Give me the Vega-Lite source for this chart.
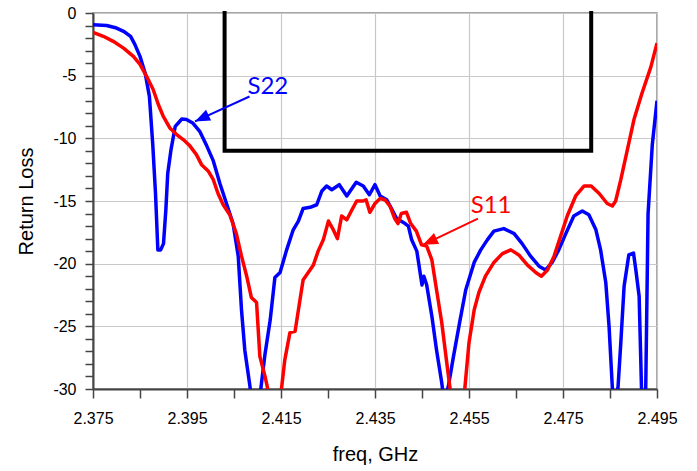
{
  "$schema": "https://vega.github.io/schema/vega-lite/v6.json",
  "width": 564,
  "height": 376,
  "autosize": {"type": "none"},
  "padding": {"left": 93, "top": 13, "right": 40, "bottom": 82},
  "background": "white",
  "config": {
    "view": {"stroke": "#888888", "strokeWidth": 1.5},
    "font": "Liberation Sans",
    "axis": {
      "labelFont": "Liberation Sans",
      "titleFont": "Liberation Sans",
      "labelColor": "black",
      "titleColor": "black",
      "titleFontWeight": "normal",
      "labelFontSize": 16,
      "titleFontSize": 20,
      "domainColor": "#444444",
      "domainWidth": 2,
      "tickColor": "#444444",
      "tickWidth": 1.5,
      "gridColor": "#c8c8c8",
      "gridWidth": 1.2,
      "labelOverlap": false,
      "labelFlush": false
    }
  },
  "resolve": {"axis": {"x": "independent", "y": "independent"}},
  "datasets": {
    "curves": [
      {"series": "S22", "freq": 2.375, "db": -0.93},
      {"series": "S22", "freq": 2.3779, "db": -1.0},
      {"series": "S22", "freq": 2.38, "db": -1.2},
      {"series": "S22", "freq": 2.3815, "db": -1.46},
      {"series": "S22", "freq": 2.383, "db": -1.86},
      {"series": "S22", "freq": 2.3839, "db": -2.5},
      {"series": "S22", "freq": 2.385, "db": -3.46},
      {"series": "S22", "freq": 2.3861, "db": -4.8},
      {"series": "S22", "freq": 2.387, "db": -6.65},
      {"series": "S22", "freq": 2.3877, "db": -10.4},
      {"series": "S22", "freq": 2.3883, "db": -14.4},
      {"series": "S22", "freq": 2.3888, "db": -18.9},
      {"series": "S22", "freq": 2.3894, "db": -18.9},
      {"series": "S22", "freq": 2.39, "db": -18.4},
      {"series": "S22", "freq": 2.3905, "db": -15.7},
      {"series": "S22", "freq": 2.3909, "db": -12.8},
      {"series": "S22", "freq": 2.3916, "db": -10.9},
      {"series": "S22", "freq": 2.3925, "db": -9.04},
      {"series": "S22", "freq": 2.3939, "db": -8.46},
      {"series": "S22", "freq": 2.3949, "db": -8.5},
      {"series": "S22", "freq": 2.3963, "db": -8.8},
      {"series": "S22", "freq": 2.3977, "db": -9.44},
      {"series": "S22", "freq": 2.3992, "db": -10.6},
      {"series": "S22", "freq": 2.4006, "db": -11.8},
      {"series": "S22", "freq": 2.402, "db": -13.6},
      {"series": "S22", "freq": 2.4034, "db": -15.2},
      {"series": "S22", "freq": 2.4048, "db": -16.8},
      {"series": "S22", "freq": 2.4059, "db": -19.4},
      {"series": "S22", "freq": 2.4066, "db": -23.7},
      {"series": "S22", "freq": 2.4073, "db": -26.9},
      {"series": "S22", "freq": 2.4084, "db": -29.8},
      {"series": "S22", "freq": 2.4095, "db": -34},
      {"series": "S22", "freq": 2.4107, "db": -30},
      {"series": "S22", "freq": 2.4116, "db": -27.2},
      {"series": "S22", "freq": 2.4127, "db": -24.5},
      {"series": "S22", "freq": 2.4137, "db": -21.1},
      {"series": "S22", "freq": 2.4148, "db": -20.7},
      {"series": "S22", "freq": 2.4162, "db": -18.9},
      {"series": "S22", "freq": 2.4176, "db": -17.3},
      {"series": "S22", "freq": 2.4187, "db": -16.6},
      {"series": "S22", "freq": 2.4197, "db": -15.6},
      {"series": "S22", "freq": 2.4212, "db": -15.5},
      {"series": "S22", "freq": 2.4226, "db": -15.3},
      {"series": "S22", "freq": 2.4237, "db": -14.2},
      {"series": "S22", "freq": 2.4247, "db": -13.8},
      {"series": "S22", "freq": 2.4258, "db": -14.1},
      {"series": "S22", "freq": 2.4274, "db": -13.7},
      {"series": "S22", "freq": 2.429, "db": -14.6},
      {"series": "S22", "freq": 2.431, "db": -13.5},
      {"series": "S22", "freq": 2.4325, "db": -13.8},
      {"series": "S22", "freq": 2.4338, "db": -14.5},
      {"series": "S22", "freq": 2.435, "db": -13.7},
      {"series": "S22", "freq": 2.4361, "db": -14.6},
      {"series": "S22", "freq": 2.4375, "db": -14.9},
      {"series": "S22", "freq": 2.4385, "db": -15.6},
      {"series": "S22", "freq": 2.4396, "db": -16.4},
      {"series": "S22", "freq": 2.4414, "db": -16.8},
      {"series": "S22", "freq": 2.4421, "db": -17.0},
      {"series": "S22", "freq": 2.4428, "db": -18.1},
      {"series": "S22", "freq": 2.4439, "db": -19.0},
      {"series": "S22", "freq": 2.445, "db": -21.7},
      {"series": "S22", "freq": 2.4454, "db": -21.0},
      {"series": "S22", "freq": 2.446, "db": -21.7},
      {"series": "S22", "freq": 2.4471, "db": -24.2},
      {"series": "S22", "freq": 2.4481, "db": -26.9},
      {"series": "S22", "freq": 2.4492, "db": -29.5},
      {"series": "S22", "freq": 2.4497, "db": -31},
      {"series": "S22", "freq": 2.4506, "db": -29.8},
      {"series": "S22", "freq": 2.4517, "db": -27.4},
      {"series": "S22", "freq": 2.4531, "db": -24.5},
      {"series": "S22", "freq": 2.4543, "db": -22.1},
      {"series": "S22", "freq": 2.4561, "db": -19.9},
      {"series": "S22", "freq": 2.4575, "db": -18.9},
      {"series": "S22", "freq": 2.4589, "db": -18.1},
      {"series": "S22", "freq": 2.4603, "db": -17.4},
      {"series": "S22", "freq": 2.4624, "db": -17.2},
      {"series": "S22", "freq": 2.4646, "db": -17.6},
      {"series": "S22", "freq": 2.4663, "db": -18.4},
      {"series": "S22", "freq": 2.4681, "db": -19.4},
      {"series": "S22", "freq": 2.4699, "db": -20.2},
      {"series": "S22", "freq": 2.4713, "db": -20.5},
      {"series": "S22", "freq": 2.4727, "db": -19.9},
      {"series": "S22", "freq": 2.4741, "db": -18.9},
      {"series": "S22", "freq": 2.4756, "db": -17.6},
      {"series": "S22", "freq": 2.4773, "db": -16.2},
      {"series": "S22", "freq": 2.4791, "db": -15.8},
      {"series": "S22", "freq": 2.4805, "db": -16.1},
      {"series": "S22", "freq": 2.482, "db": -17.3},
      {"series": "S22", "freq": 2.483, "db": -18.9},
      {"series": "S22", "freq": 2.4841, "db": -21.5},
      {"series": "S22", "freq": 2.4848, "db": -25.0},
      {"series": "S22", "freq": 2.4855, "db": -29.9},
      {"series": "S22", "freq": 2.4861, "db": -32},
      {"series": "S22", "freq": 2.4867, "db": -29.9},
      {"series": "S22", "freq": 2.4873, "db": -26.3},
      {"series": "S22", "freq": 2.488, "db": -21.8},
      {"series": "S22", "freq": 2.489, "db": -19.3},
      {"series": "S22", "freq": 2.49, "db": -19.15},
      {"series": "S22", "freq": 2.4905, "db": -20.5},
      {"series": "S22", "freq": 2.4912, "db": -22.6},
      {"series": "S22", "freq": 2.4917, "db": -29.9},
      {"series": "S22", "freq": 2.4921, "db": -32},
      {"series": "S22", "freq": 2.4926, "db": -30},
      {"series": "S22", "freq": 2.4931, "db": -16},
      {"series": "S22", "freq": 2.494, "db": -10.5},
      {"series": "S22", "freq": 2.495, "db": -7.0},
      {"series": "S11", "freq": 2.375, "db": -1.54},
      {"series": "S11", "freq": 2.3772, "db": -1.86},
      {"series": "S11", "freq": 2.3793, "db": -2.26},
      {"series": "S11", "freq": 2.3815, "db": -2.8},
      {"series": "S11", "freq": 2.3836, "db": -3.46},
      {"series": "S11", "freq": 2.385, "db": -4.1},
      {"series": "S11", "freq": 2.3864, "db": -5.05},
      {"series": "S11", "freq": 2.3878, "db": -6.1},
      {"series": "S11", "freq": 2.3889, "db": -7.3},
      {"series": "S11", "freq": 2.3899, "db": -8.2},
      {"series": "S11", "freq": 2.3914, "db": -9.2},
      {"series": "S11", "freq": 2.3928, "db": -9.7},
      {"series": "S11", "freq": 2.3942, "db": -10.1},
      {"series": "S11", "freq": 2.3956, "db": -10.6},
      {"series": "S11", "freq": 2.397, "db": -11.3},
      {"series": "S11", "freq": 2.3981, "db": -12.1},
      {"series": "S11", "freq": 2.3995, "db": -12.6},
      {"series": "S11", "freq": 2.4006, "db": -13.3},
      {"series": "S11", "freq": 2.4016, "db": -14.4},
      {"series": "S11", "freq": 2.4027, "db": -15.3},
      {"series": "S11", "freq": 2.4041, "db": -16.1},
      {"series": "S11", "freq": 2.4055, "db": -17.6},
      {"series": "S11", "freq": 2.4066, "db": -19.4},
      {"series": "S11", "freq": 2.4077, "db": -21.0},
      {"series": "S11", "freq": 2.4087, "db": -22.7},
      {"series": "S11", "freq": 2.4098, "db": -23.1},
      {"series": "S11", "freq": 2.4105, "db": -27.4},
      {"series": "S11", "freq": 2.4116, "db": -29.0},
      {"series": "S11", "freq": 2.4123, "db": -30.2},
      {"series": "S11", "freq": 2.4137, "db": -35},
      {"series": "S11", "freq": 2.4151, "db": -30.0},
      {"series": "S11", "freq": 2.4158, "db": -27.7},
      {"series": "S11", "freq": 2.4169, "db": -25.5},
      {"series": "S11", "freq": 2.418, "db": -25.4},
      {"series": "S11", "freq": 2.4187, "db": -23.7},
      {"series": "S11", "freq": 2.4197, "db": -21.3},
      {"series": "S11", "freq": 2.4208, "db": -20.7},
      {"series": "S11", "freq": 2.4219, "db": -20.1},
      {"series": "S11", "freq": 2.4229, "db": -19.0},
      {"series": "S11", "freq": 2.424, "db": -18.1},
      {"series": "S11", "freq": 2.4251, "db": -16.6},
      {"series": "S11", "freq": 2.426, "db": -17.2},
      {"series": "S11", "freq": 2.427, "db": -18.0},
      {"series": "S11", "freq": 2.4279, "db": -16.2},
      {"series": "S11", "freq": 2.429, "db": -16.5},
      {"series": "S11", "freq": 2.4301, "db": -15.7},
      {"series": "S11", "freq": 2.4311, "db": -15.0},
      {"series": "S11", "freq": 2.4325, "db": -15.0},
      {"series": "S11", "freq": 2.4331, "db": -14.9},
      {"series": "S11", "freq": 2.4339, "db": -15.9},
      {"series": "S11", "freq": 2.435, "db": -15.2},
      {"series": "S11", "freq": 2.4361, "db": -14.8},
      {"series": "S11", "freq": 2.4371, "db": -14.9},
      {"series": "S11", "freq": 2.4382, "db": -15.4},
      {"series": "S11", "freq": 2.4392, "db": -16.4},
      {"series": "S11", "freq": 2.4399, "db": -16.8},
      {"series": "S11", "freq": 2.4406, "db": -16.0},
      {"series": "S11", "freq": 2.4417, "db": -15.9},
      {"series": "S11", "freq": 2.4426, "db": -16.8},
      {"series": "S11", "freq": 2.4438, "db": -17.4},
      {"series": "S11", "freq": 2.4449, "db": -18.5},
      {"series": "S11", "freq": 2.446, "db": -18.6},
      {"series": "S11", "freq": 2.4471, "db": -19.7},
      {"series": "S11", "freq": 2.4481, "db": -22.1},
      {"series": "S11", "freq": 2.4492, "db": -24.7},
      {"series": "S11", "freq": 2.4502, "db": -27.7},
      {"series": "S11", "freq": 2.451, "db": -30.05},
      {"series": "S11", "freq": 2.4525, "db": -35},
      {"series": "S11", "freq": 2.4541, "db": -30.0},
      {"series": "S11", "freq": 2.455, "db": -26.3},
      {"series": "S11", "freq": 2.4561, "db": -23.7},
      {"series": "S11", "freq": 2.4571, "db": -22.3},
      {"series": "S11", "freq": 2.4585, "db": -21.0},
      {"series": "S11", "freq": 2.4603, "db": -19.9},
      {"series": "S11", "freq": 2.4621, "db": -19.2},
      {"series": "S11", "freq": 2.4639, "db": -18.9},
      {"series": "S11", "freq": 2.4656, "db": -19.3},
      {"series": "S11", "freq": 2.4674, "db": -20.1},
      {"series": "S11", "freq": 2.4692, "db": -20.7},
      {"series": "S11", "freq": 2.4704, "db": -21.0},
      {"series": "S11", "freq": 2.4717, "db": -20.5},
      {"series": "S11", "freq": 2.4731, "db": -19.4},
      {"series": "S11", "freq": 2.4745, "db": -17.8},
      {"series": "S11", "freq": 2.4759, "db": -16.2},
      {"series": "S11", "freq": 2.4777, "db": -14.6},
      {"series": "S11", "freq": 2.4795, "db": -13.8},
      {"series": "S11", "freq": 2.481, "db": -13.8},
      {"series": "S11", "freq": 2.4827, "db": -14.4},
      {"series": "S11", "freq": 2.4844, "db": -15.2},
      {"series": "S11", "freq": 2.4855, "db": -15.4},
      {"series": "S11", "freq": 2.4862, "db": -15.0},
      {"series": "S11", "freq": 2.4873, "db": -13.3},
      {"series": "S11", "freq": 2.4887, "db": -10.9},
      {"series": "S11", "freq": 2.4901, "db": -8.5},
      {"series": "S11", "freq": 2.4918, "db": -6.4},
      {"series": "S11", "freq": 2.4937, "db": -4.3},
      {"series": "S11", "freq": 2.495, "db": -2.4}
    ],
    "mask": [
      {"seq": 1, "freq": 2.403, "db": 0},
      {"seq": 2, "freq": 2.403, "db": -11},
      {"seq": 3, "freq": 2.481, "db": -11},
      {"seq": 4, "freq": 2.481, "db": 0}
    ],
    "notes": [
      {"series": "S22", "label": "S22", "tx": 2.4122, "ty": -5.88, "fx": 2.4083, "fy": -6.66, "hx": 2.3967, "hy": -8.65},
      {"series": "S11", "label": "S11", "tx": 2.4597, "ty": -15.38, "fx": 2.4569, "fy": -16.4, "hx": 2.4452, "hy": -18.5}
    ]
  },
  "layer": [
    {
      "data": {"name": "mask"},
      "mark": {"type": "line", "color": "black", "strokeWidth": 4, "strokeJoin": "miter", "strokeCap": "square"},
      "encoding": {
        "x": {
          "field": "freq", "type": "quantitative",
          "scale": {"domain": [2.375, 2.495], "nice": false, "zero": false},
          "axis": {
            "title": "freq, GHz",
            "orient": "bottom",
            "values": [2.375, 2.395, 2.415, 2.435, 2.455, 2.475, 2.495],
            "format": ".3f",
            "grid": true,
            "tickSize": 9,
            "labelPadding": 12,
            "titlePadding": 18
          }
        },
        "y": {
          "field": "db", "type": "quantitative",
          "scale": {"domain": [-30, 0], "nice": false},
          "axis": {
            "title": "Return Loss",
            "orient": "left",
            "values": [-30, -25, -20, -15, -10, -5, 0],
            "labelExpr": "'' + datum.value",
            "grid": true,
            "tickSize": 8,
            "labelPadding": 9,
            "titlePadding": 16
          }
        },
        "order": {"field": "seq", "type": "quantitative"}
      }
    },
    {
      "data": {"name": "curves"},
      "mark": {"type": "line", "strokeWidth": 3.5, "clip": true, "strokeJoin": "round"},
      "encoding": {
        "x": {
          "field": "freq", "type": "quantitative",
          "axis": {
            "orient": "bottom",
            "title": null,
            "values": [2.385, 2.405, 2.425, 2.445, 2.465, 2.485],
            "labels": false,
            "grid": false,
            "domain": false,
            "tickSize": 9
          }
        },
        "y": {
          "field": "db", "type": "quantitative",
          "axis": {
            "orient": "left",
            "title": null,
            "values": [-29, -28, -27, -26, -24, -23, -22, -21, -19, -18, -17, -16, -14, -13, -12, -11, -9, -8, -7, -6, -4, -3, -2, -1],
            "labels": false,
            "grid": false,
            "domain": false,
            "tickSize": 8
          }
        },
        "color": {"field": "series", "type": "nominal", "scale": {"domain": ["S11", "S22"], "range": ["#ff0000", "#0000ff"]}, "legend": null}
      }
    },
    {
      "data": {"name": "notes"},
      "mark": {"type": "rule", "strokeWidth": 2},
      "encoding": {
        "x": {"field": "fx", "type": "quantitative", "axis": null},
        "y": {"field": "fy", "type": "quantitative", "axis": null},
        "x2": {"field": "hx"},
        "y2": {"field": "hy"},
        "color": {"field": "series", "type": "nominal", "legend": null}
      }
    },
    {
      "data": {"name": "notes"},
      "mark": {"type": "point", "shape": "M0,0L-0.4,1L0.4,1Z", "filled": true, "opacity": 1, "angle": 245, "size": 900},
      "encoding": {
        "x": {"field": "hx", "type": "quantitative", "axis": null},
        "y": {"field": "hy", "type": "quantitative", "axis": null},
        "color": {"field": "series", "type": "nominal", "legend": null}
      }
    },
    {
      "data": {"name": "notes"},
      "mark": {"type": "text", "font": "Lato", "fontSize": 24, "align": "center", "baseline": "middle"},
      "encoding": {
        "x": {"field": "tx", "type": "quantitative", "axis": null},
        "y": {"field": "ty", "type": "quantitative", "axis": null},
        "text": {"field": "label"},
        "color": {"field": "series", "type": "nominal", "legend": null}
      }
    }
  ]
}
